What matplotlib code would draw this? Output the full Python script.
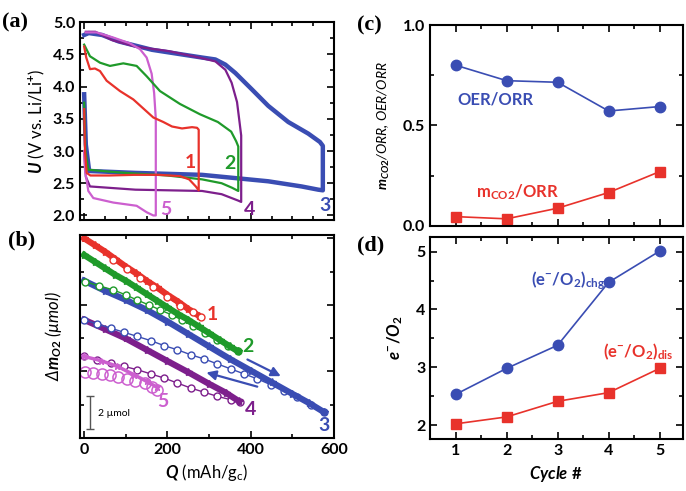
import numpy as np
import matplotlib.pyplot as plt
from matplotlib.ticker import MultipleLocator, NullFormatter

plt.rcParams['font.family'] = 'Lato'
plt.rcParams['font.weight'] = 'bold'
plt.rcParams['mathtext.fontset'] = 'custom'
plt.rcParams['mathtext.rm'] = 'Lato:bold'
plt.rcParams['mathtext.it'] = 'Lato:italic:bold'
plt.rcParams['mathtext.bf'] = 'Lato:bold'

RED = '#e8322b'
GREEN = '#1f9a2a'
BLUE = '#3a4db3'
PURPLE = '#7d1f8c'
PINK = '#cc5fcf'

# ---- (a) voltage profiles: discharge then charge (plotted back to Q=0)
q1_dis = [0, 2, 6, 15, 60, 120, 180, 230, 252, 268, 275]
u1_dis = [3.65, 3.0, 2.66, 2.62, 2.62, 2.63, 2.63, 2.61, 2.56, 2.45, 2.39]
q1_chg = [275, 275, 271, 259, 235, 211, 190, 166, 118, 86, 54, 38, 26, 14, 5, 0]
u1_chg = [2.39, 3.33, 3.36, 3.37, 3.35, 3.38, 3.45, 3.52, 3.80, 3.93, 4.09, 4.24, 4.28, 4.27, 4.45, 4.62]

q2_dis = [0, 3, 10, 60, 123, 200, 283, 330, 355, 367, 370]
u2_dis = [3.75, 3.0, 2.71, 2.68, 2.65, 2.62, 2.56, 2.50, 2.43, 2.39, 2.38]
q2_chg = [370, 370, 365, 353, 321, 278, 230, 182, 150, 126, 94, 62, 38, 14, 0]
u2_chg = [2.38, 3.07, 3.15, 3.30, 3.45, 3.57, 3.73, 3.93, 4.16, 4.32, 4.36, 4.32, 4.37, 4.47, 4.65]

q3_dis = [0, 4, 12, 123, 283, 442, 522, 562, 573]
u3_dis = [3.88, 3.1, 2.69, 2.66, 2.63, 2.53, 2.45, 2.40, 2.39]
q3_chg = [573, 573, 566, 538, 490, 442, 402, 363, 339, 315, 283, 243, 163, 83, 43, 11, 0]
u3_chg = [2.39, 3.08, 3.14, 3.27, 3.45, 3.70, 3.96, 4.21, 4.34, 4.42, 4.45, 4.49, 4.57, 4.70, 4.80, 4.83, 4.80]

q4_dis = [0, 4, 14, 123, 283, 330, 370, 377]
u4_dis = [3.0, 2.6, 2.45, 2.40, 2.38, 2.33, 2.23, 2.21]
q4_chg = [377, 377, 373, 367, 354, 339, 315, 283, 203, 123, 67, 27, 4]
u4_chg = [2.21, 3.24, 3.45, 3.76, 4.06, 4.26, 4.39, 4.44, 4.55, 4.62, 4.72, 4.85, 4.85]

q5_dis = [0, 2, 10, 22, 70, 126, 150, 166, 172]
u5_dis = [3.0, 2.71, 2.38, 2.27, 2.20, 2.15, 2.05, 2.00, 2.00]
q5_chg = [172, 172, 168, 162, 150, 134, 110, 70, 30, 4]
u5_chg = [2.00, 3.5, 3.9, 4.2, 4.45, 4.58, 4.67, 4.76, 4.84, 4.84]

# ---- (b) O2 consumption / evolution (umol, offset per cycle)
r_fill_q = [0, 25, 50, 75, 100, 125, 150, 175, 200, 225, 250, 275]
r_fill_y = [12.0, 11.6, 11.2, 10.75, 10.3, 9.9, 9.45, 9.05, 8.6, 8.2, 7.75, 7.35]
r_open_q = [70, 102, 134, 166, 198, 230, 262, 280]
r_open_y = [10.7, 10.15, 9.6, 9.05, 8.5, 7.95, 7.55, 7.3]

g_fill_q = [0, 25, 50, 75, 100, 125, 150, 175, 200, 225, 250, 275, 300, 325, 350, 370]
g_fill_y = [11.0, 10.6, 10.2, 9.8, 9.45, 9.05, 8.65, 8.25, 7.85, 7.45, 7.1, 6.7, 6.3, 5.9, 5.5, 5.2]
g_open_q = [2, 35, 70, 100, 126, 155, 182, 210, 234, 262, 290, 318, 345, 370]
g_open_y = [9.4, 9.15, 8.9, 8.6, 8.3, 8.0, 7.7, 7.4, 7.1, 6.7, 6.3, 5.9, 5.55, 5.2]

b_fill_q = [0, 50, 100, 150, 200, 250, 300, 350, 400, 450, 500, 540, 576]
b_fill_y = [9.45, 8.85, 8.3, 7.7, 7.0, 6.25, 5.5, 4.75, 4.05, 3.35, 2.65, 2.1, 1.55]
b_open_q = [0, 32, 64, 96, 128, 160, 192, 224, 256, 288, 320, 352, 384, 416, 448, 480, 512, 544, 576]
b_open_y = [7.1, 6.85, 6.6, 6.35, 6.1, 5.85, 5.55, 5.3, 5.0, 4.75, 4.45, 4.15, 3.85, 3.55, 3.2, 2.85, 2.45, 2.0, 1.55]

p_fill_q = [0, 50, 100, 150, 200, 250, 300, 340, 372]
p_fill_y = [7.1, 6.55, 5.98, 5.3, 4.62, 3.95, 3.25, 2.72, 2.2]
p_open_q = [0, 32, 64, 96, 128, 160, 192, 224, 256, 288, 320, 352, 374]
p_open_y = [4.9, 4.7, 4.5, 4.3, 4.1, 3.85, 3.6, 3.3, 3.0, 2.75, 2.5, 2.3, 2.15]

m_fill_q = [0, 40, 80, 120, 150, 175]
m_fill_y = [4.9, 4.65, 4.3, 3.8, 3.4, 3.05]
m_open_q = [2, 22, 42, 62, 82, 102, 122, 146, 162, 174]
m_open_y = [3.98, 3.92, 3.84, 3.78, 3.64, 3.52, 3.42, 3.28, 3.08, 2.88]

# ---- (c), (d)
cycles = [1, 2, 3, 4, 5]
oer_orr = [0.80, 0.723, 0.715, 0.572, 0.594]
mco2_orr = [0.046, 0.035, 0.088, 0.166, 0.27]
e_chg = [2.53, 2.98, 3.38, 4.47, 5.01]
e_dis = [2.02, 2.14, 2.41, 2.56, 2.98]

fig = plt.figure(figsize=(6.86, 4.91), dpi=100)
ax_a = fig.add_axes([0.1166, 0.552, 0.3704, 0.403])
ax_b = fig.add_axes([0.1166, 0.108, 0.3704, 0.4134])
ax_c = fig.add_axes([0.627, 0.540, 0.368, 0.409])
ax_d = fig.add_axes([0.627, 0.105, 0.368, 0.413])


def style(ax):
    ax.tick_params(which='both', direction='in', top=True, right=True, width=1.2,
                   labelsize=11.5)
    ax.tick_params(which='major', length=5)
    ax.tick_params(which='minor', length=3)
    for s in ax.spines.values():
        s.set_linewidth(1.5)


# (a)
ax_a.plot(q3_dis + q3_chg, u3_dis + u3_chg, color=BLUE, lw=3.2)
ax_a.plot(q4_dis + q4_chg, u4_dis + u4_chg, color=PURPLE, lw=1.6)
ax_a.plot(q5_dis + q5_chg, u5_dis + u5_chg, color=PINK, lw=1.6)
ax_a.plot(q2_dis + q2_chg, u2_dis + u2_chg, color=GREEN, lw=1.6)
ax_a.plot(q1_dis + q1_chg, u1_dis + u1_chg, color=RED, lw=1.6)
ax_a.set_xlim(-10, 600)
ax_a.set_ylim(1.93, 5.0)
ax_a.xaxis.set_major_locator(MultipleLocator(200))
ax_a.xaxis.set_minor_locator(MultipleLocator(50))
ax_a.yaxis.set_major_locator(MultipleLocator(0.5))
ax_a.yaxis.set_minor_locator(MultipleLocator(0.25))
ax_a.xaxis.set_major_formatter(NullFormatter())
ax_a.yaxis.set_major_formatter(plt.FuncFormatter(lambda v, p: f'{v:.1f}'))
style(ax_a)
ax_a.set_ylabel(r'$U$ (V vs. Li/Li$^{+}$)', fontsize=12, labelpad=4)
for txt, x, y, c in [('1', 254, 2.82, RED), ('2', 350, 2.80, GREEN), ('3', 577, 2.16, BLUE),
                     ('4', 397, 2.10, PURPLE), ('5', 196, 2.10, PINK)]:
    ax_a.text(x, y, txt, color=c, fontsize=14, ha='center', va='center')

# (b)
ax_b.plot(p_open_q, p_open_y, color=PURPLE, lw=1, marker='o', ms=5, mfc='white', mew=1)
ax_b.plot(m_fill_q, m_fill_y, color=PINK, lw=2.5, marker='*', ms=5)
ax_b.plot(m_open_q, m_open_y, color=PINK, lw=0, marker='o', ms=8, mfc='none', mew=1.1)
ax_b.plot(p_fill_q, p_fill_y, color=PURPLE, lw=4.5, marker='*', ms=6)
ax_b.plot(b_open_q, b_open_y, color=BLUE, lw=1, marker='o', ms=5, mfc='white', mew=1)
ax_b.plot(b_fill_q, b_fill_y, color=BLUE, lw=4.5, marker='*', ms=6)
ax_b.plot(g_open_q, g_open_y, color=GREEN, lw=1, marker='o', ms=5, mfc='white', mew=1)
ax_b.plot(g_fill_q, g_fill_y, color=GREEN, lw=4.5, marker='*', ms=6)
ax_b.plot(r_fill_q, r_fill_y, color=RED, lw=4.5, marker='*', ms=6)
ax_b.plot(r_open_q, r_open_y, color=RED, lw=1, marker='o', ms=5, mfc='white', mew=1)
ax_b.annotate('', xy=(478, 3.64), xytext=(386, 4.79),
              arrowprops=dict(arrowstyle='-|>', color=BLUE, lw=1.6, mutation_scale=14))
ax_b.annotate('', xy=(287, 3.98), xytext=(422, 3.04),
              arrowprops=dict(arrowstyle='-|>', color=BLUE, lw=1.6, mutation_scale=14))
ax_b.errorbar([14], [1.55], yerr=[1.0], color='#555555', lw=1, capsize=3, capthick=1)
ax_b.text(33, 1.45, u'2 \u00b5mol', fontsize=7.5, fontweight='normal', va='center')
for txt, x, y, c in [('1', 308, 7.45, RED), ('2', 392, 5.5, GREEN), ('3', 576, 0.75, BLUE),
                     ('4', 400, 1.7, PURPLE), ('5', 188, 2.2, PINK)]:
    ax_b.text(x, y, txt, color=c, fontsize=14, ha='center', va='center')
ax_b.set_xlim(-10, 600)
ax_b.set_ylim(0, 12.2)
ax_b.xaxis.set_major_locator(MultipleLocator(200))
ax_b.xaxis.set_minor_locator(MultipleLocator(100))
ax_b.yaxis.set_major_locator(MultipleLocator(4))
ax_b.yaxis.set_minor_locator(MultipleLocator(2))
ax_b.yaxis.set_major_formatter(NullFormatter())
style(ax_b)
ax_b.set_xlabel(r'$Q$ (mAh/g$_{\mathregular{c}}$)', fontsize=12, labelpad=4)
ax_b.set_ylabel(u'\u0394$m_{O2}$ (\u00b5mol)', fontsize=12, fontstyle='italic', labelpad=8)

# (c)
ax_c.plot(cycles, oer_orr, color=BLUE, lw=1.2, marker='o', ms=7.5)
ax_c.plot(cycles, mco2_orr, color=RED, lw=1.2, marker='s', ms=6.5)
ax_c.set_xlim(0.5, 5.45)
ax_c.set_ylim(0, 1.0)
ax_c.xaxis.set_major_locator(MultipleLocator(1))
ax_c.xaxis.set_minor_locator(MultipleLocator(0.5))
ax_c.yaxis.set_major_locator(MultipleLocator(0.5))
ax_c.yaxis.set_minor_locator(MultipleLocator(0.25))
ax_c.xaxis.set_major_formatter(NullFormatter())
ax_c.yaxis.set_major_formatter(plt.FuncFormatter(lambda v, p: f'{v:.1f}'))
style(ax_c)
ax_c.set_ylabel(r'$m_{CO2}$/ORR, OER/ORR', fontsize=10, fontstyle='italic', labelpad=8)
ax_c.text(1.77, 0.63, 'OER/ORR', color=BLUE, fontsize=12, ha='center', va='center')
ax_c.text(2.22, 0.17, r'm$_{\mathregular{CO2}}$/ORR', color=RED, fontsize=12, ha='center', va='center')

# (d)
ax_d.plot(cycles, e_chg, color=BLUE, lw=1.2, marker='o', ms=7.5)
ax_d.plot(cycles, e_dis, color=RED, lw=1.2, marker='s', ms=6.5)
ax_d.set_xlim(0.5, 5.45)
ax_d.set_ylim(1.75, 5.26)
ax_d.xaxis.set_major_locator(MultipleLocator(1))
ax_d.xaxis.set_minor_locator(MultipleLocator(0.5))
ax_d.yaxis.set_major_locator(MultipleLocator(1))
ax_d.yaxis.set_minor_locator(MultipleLocator(0.5))
style(ax_d)
ax_d.set_xlabel(r'$Cycle\ \#$', fontsize=12, labelpad=4)
ax_d.set_ylabel(r'$e^{-}/O_2$', fontsize=12, labelpad=8)
ax_d.text(3.2, 4.5, r'(e$^{\mathregular{-}}$/O$_{\mathregular{2}}$)$_{\mathregular{chg}}$',
          color=BLUE, fontsize=12, ha='center', va='center')
ax_d.text(4.58, 3.27, r'(e$^{\mathregular{-}}$/O$_{\mathregular{2}}$)$_{\mathregular{dis}}$',
          color=RED, fontsize=12, ha='center', va='center')

# panel letters
for txt, x, y in [('(a)', 0.003, 0.955), ('(b)', 0.012, 0.51), ('(c)', 0.52, 0.948), ('(d)', 0.52, 0.50)]:
    fig.text(x, y, txt, fontsize=16, fontweight='bold', family='Liberation Serif', va='center')

fig.savefig('out.png', dpi=100)
